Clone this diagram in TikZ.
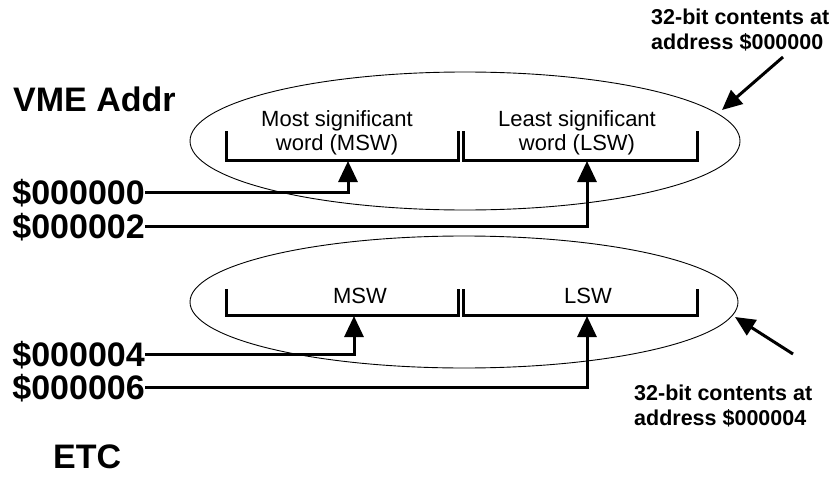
\documentclass[tikz,border=0pt]{standalone}
\usepackage{fontspec}
\setmainfont{Liberation Sans}
\usetikzlibrary{arrows.meta,shapes.geometric}
\tikzset{
  oval/.style={draw, line width=0.9pt},
  brk/.style={draw, line width=3pt, line cap=butt, line join=miter},
  conn/.style={draw, line width=3pt, -{Triangle[length=21pt,width=19pt]}},
  note/.style={-{Triangle[length=20pt,width=18pt]}, line width=3pt},
  word/.style={inner sep=0pt, align=center, font=\fontsize{22}{23.5}\selectfont},
  addr/.style={inner sep=0pt, anchor=east, text height=25pt, text depth=0pt, font=\fontsize{34}{36}\selectfont\bfseries},
  big/.style={inner sep=0pt, anchor=base west, font=\fontsize{34}{36}\selectfont\bfseries},
  anno/.style={inner sep=0pt, align=left, anchor=base west, font=\fontsize{21.5}{25}\selectfont\bfseries},
}
\begin{document}
\begin{tikzpicture}[x=1pt,y=-1pt]
\useasboundingbox (0,0) rectangle (839,479);
% ellipses
\node[oval, ellipse, minimum width=550pt, minimum height=138pt, inner sep=0pt] (e1) at (465,141) {};
\node[oval, ellipse, minimum width=548pt, minimum height=132pt, inner sep=0pt] (e2) at (464,302) {};
% brackets
\draw[brk] (226,131) -- (226,160) -- (458,160) -- (458,131);
\draw[brk] (463,131) -- (463,160) -- (697,160) -- (697,131);
\draw[brk] (226,289) -- (226,315) -- (458,315) -- (458,289);
\draw[brk] (463,289) -- (463,315) -- (697,315) -- (697,289);
% word labels
\node[word, anchor=base] (msw1) at (337,150) {Most significant\\word (MSW)};
\node[word, anchor=base] (lsw1) at (577,150) {Least significant\\word (LSW)};
\node[word, anchor=base] (msw2) at (360,303) {MSW};
\node[word, anchor=base] (lsw2) at (588,303) {LSW};
% arrow targets
\coordinate (t1) at (348,161);
\coordinate (t2) at (587,161);
\coordinate (t3) at (354,316);
\coordinate (t4) at (587,316);
% addresses
\node[addr] (a0) at (145,192) {\$000000};
\node[addr] (a2) at (145,226) {\$000002};
\node[addr] (a4) at (145,354) {\$000004};
\node[addr] (a6) at (145,387) {\$000006};
\draw[conn] (a0.east) -| (t1);
\draw[conn] (a2.east) -| (t2);
\draw[conn] (a4.east) -| (t3);
\draw[conn] (a6.east) -| (t4);
% titles
\node[big] (vme) at (13,111) {VME Addr};
\node[big] (etc) at (53,468) {ETC};
% annotations
\node[anno] (n1) at (651,49) {32-bit contents at\\address \$000000};
\node[anno] (n2) at (634,425) {32-bit contents at\\address \$000004};
\coordinate (n1t) at (783,57);
\coordinate (n1h) at (722,110);
\coordinate (n2t) at (793,354);
\coordinate (n2h) at (735,317);
\draw[note] (n1t) -- (n1h);
\draw[note] (n2t) -- (n2h);
\end{tikzpicture}
\end{document}
